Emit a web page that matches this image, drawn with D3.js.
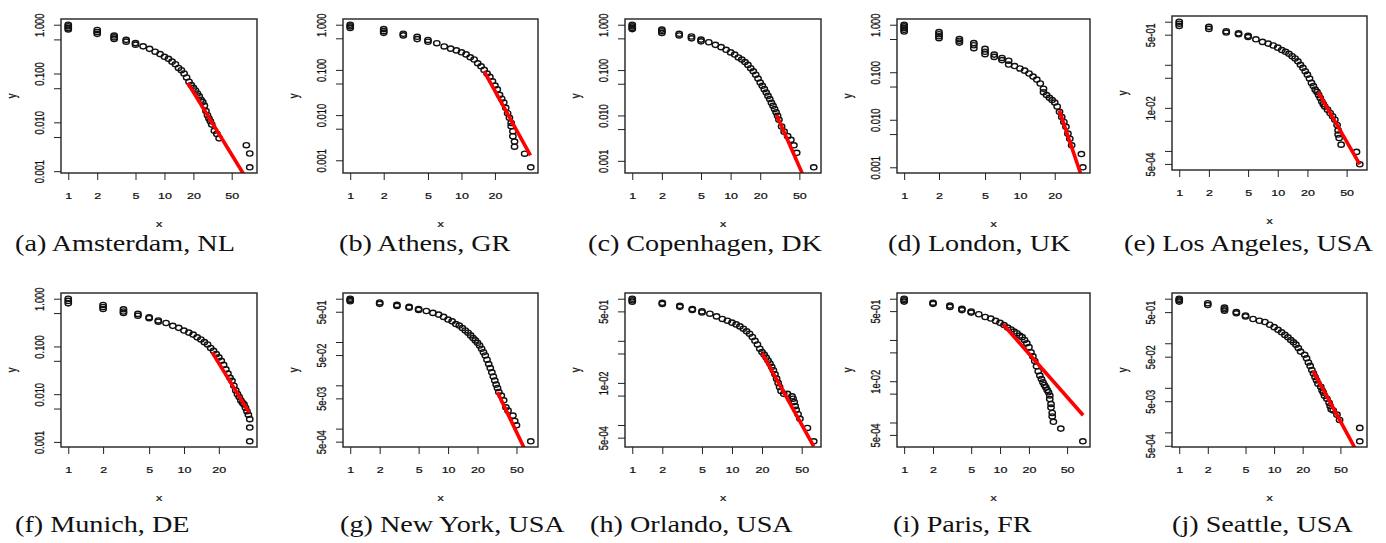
<!DOCTYPE html>
<html>
<head>
<meta charset="utf-8">
<script src="https://cdn.jsdelivr.net/npm/d3@7"></script>
<style>
  body { margin: 0; background: #fff; }
  svg { display: block; }
  .lab { font-family: "Liberation Sans", Arial, sans-serif; font-size: 12.5px; fill: #111; stroke: #111; stroke-width: 0.3px; }
  .cap { font-family: "Liberation Serif", "Times New Roman", serif; font-size: 23.5px; fill: #111; }
</style>
</head>
<body>
<svg id="fig" width="1386" height="543"></svg>
<script>

// CCDF points [x, P(X >= x)]
var amsterdam = [[1,1],[1,0.93],[1,0.86],[1,0.8],[2,0.78],[2,0.71],[2,0.65],[3,0.6],[3,0.55],[3,0.51],
  [4,0.49],[4,0.45],[5,0.42],[5,0.39],[6,0.36],[7,0.32],[8,0.28],[9,0.25],[10,0.22],[11,0.2],[12,0.175],
  [13,0.155],[14,0.13],[15,0.117],[16,0.1],[17,0.083],[18,0.068],[19,0.058],[20,0.051],[21,0.045],[22,0.039],
  [23,0.034],[24,0.029],[25,0.026],[26,0.022],[27,0.017],[28,0.014],[29,0.012],[30,0.0105],[31,0.009],
  [33,0.0067],[35,0.0058],[37,0.0047],[71,0.0034],[77,0.0023],[77,0.0012]]

var athens = [[1,1],[1,0.92],[1,0.85],[2,0.8],[2,0.72],[2,0.66],[3,0.63],[3,0.58],[4,0.54],[4,0.48],
  [5,0.46],[5,0.42],[6,0.39],[7,0.33],[8,0.295],[9,0.27],[10,0.245],[11,0.22],[12,0.19],[13,0.17],[14,0.14],
  [15,0.12],[16,0.1],[17,0.083],[18,0.07],[19,0.056],[20,0.045],[21,0.037],[22,0.028],[23,0.023],[24,0.019],
  [25,0.0145],[26,0.011],[27,0.0087],[28,0.0067],[28,0.0057],[29,0.0044],[29,0.0034],[30,0.0026],[30,0.002],
  [37,0.0014],[42,0.0007]]

var copenhagen = [[1,1],[1,0.92],[1,0.85],[1,0.8],[2,0.78],[2,0.72],[2,0.66],[3,0.63],[3,0.58],[4,0.55],
  [4,0.5],[5,0.47],[5,0.43],[6,0.41],[7,0.36],[8,0.32],[9,0.28],[10,0.245],[11,0.22],[12,0.19],[13,0.17],
  [14,0.15],[15,0.13],[16,0.11],[17,0.094],[18,0.079],[19,0.065],[20,0.053],[21,0.045],[22,0.038],[23,0.032],
  [24,0.027],[25,0.023],[26,0.019],[27,0.0163],[28,0.0138],[29,0.0117],[30,0.0098],[31,0.008],[33,0.0057],
  [35,0.0044],[38,0.0035],[41,0.0029],[44,0.0022],[47,0.0015],[70,0.00072]]

var london = [[1,1],[1,0.92],[1,0.85],[1,0.78],[1,0.72],[2,0.7],[2,0.63],[2,0.57],[2,0.52],[3,0.5],[3,0.46],
  [3,0.42],[4,0.41],[4,0.37],[4,0.32],[5,0.31],[5,0.27],[5,0.24],[6,0.235],[6,0.21],[7,0.2],[7,0.18],
  [8,0.175],[8,0.145],[9,0.135],[10,0.12],[11,0.108],[12,0.094],[13,0.081],[14,0.07],[15,0.058],[16,0.045],
  [16,0.038],[17,0.033],[18,0.029],[19,0.026],[20,0.023],[21,0.019],[22,0.0147],[23,0.0114],[24,0.009],
  [25,0.0071],[26,0.0051],[27,0.004],[28,0.0029],[34,0.0019],[35,0.001]]

var losAngeles = [[1,1],[1,0.9],[1,0.8],[2,0.76],[2,0.68],[3,0.6],[3,0.56],[4,0.54],[4,0.51],[5,0.47],
  [5,0.44],[6,0.39],[7,0.34],[8,0.31],[9,0.28],[10,0.25],[11,0.22],[12,0.2],[13,0.18],[14,0.158],[15,0.14],
  [16,0.12],[17,0.1],[18,0.085],[19,0.071],[20,0.059],[21,0.048],[22,0.038],[23,0.032],[24,0.0265],
  [25,0.0235],[26,0.02],[27,0.017],[28,0.014],[29,0.0122],[30,0.0107],[32,0.0091],[34,0.0076],[36,0.0064],
  [38,0.0053],[40,0.004],[41,0.003],[41,0.0024],[42,0.002],[44,0.0014],[63,0.00095],[68,0.00049]]

var munich = [[1,1],[1,0.9],[1,0.8],[2,0.74],[2,0.67],[2,0.61],[3,0.6],[3,0.54],[3,0.5],[4,0.48],[4,0.44],
  [5,0.41],[5,0.39],[6,0.35],[6,0.33],[7,0.31],[8,0.27],[9,0.245],[10,0.215],[11,0.195],[12,0.177],
  [13,0.155],[14,0.14],[15,0.123],[16,0.11],[17,0.093],[18,0.081],[19,0.069],[20,0.059],[21,0.05],
  [22,0.041],[23,0.033],[24,0.027],[25,0.022],[26,0.019],[27,0.015],[28,0.012],[29,0.01],[30,0.0087],
  [31,0.0074],[32,0.0066],[33,0.0061],[34,0.0052],[35,0.0044],[36,0.0037],[37,0.003],[37,0.002],[37,0.00103]]

var newYork = [[1,1],[1,0.93],[1,0.87],[2,0.82],[2,0.76],[3,0.72],[3,0.68],[4,0.65],[4,0.62],[5,0.58],
  [5,0.55],[6,0.52],[7,0.47],[8,0.43],[9,0.38],[10,0.33],[11,0.3],[12,0.26],[13,0.24],[14,0.21],[15,0.185],
  [16,0.164],[17,0.142],[18,0.123],[19,0.109],[20,0.096],[21,0.083],[22,0.07],[23,0.058],[24,0.049],
  [25,0.039],[26,0.031],[27,0.025],[28,0.02],[29,0.016],[30,0.0129],[31,0.0104],[32,0.0087],[33,0.007],
  [35,0.0058],[37,0.0045],[39,0.0031],[41,0.0026],[46,0.002],[48,0.0015],[50,0.0012],[70,0.00051]]

var orlando = [[1,1],[1,0.92],[1,0.85],[2,0.8],[2,0.75],[3,0.68],[3,0.64],[4,0.57],[4,0.54],[5,0.5],
  [5,0.47],[6,0.44],[7,0.38],[8,0.33],[9,0.3],[10,0.27],[11,0.245],[12,0.22],[13,0.194],[14,0.168],
  [15,0.147],[16,0.123],[17,0.1],[18,0.082],[19,0.065],[20,0.054],[21,0.047],[22,0.04],[23,0.034],
  [24,0.029],[25,0.024],[26,0.02],[27,0.016],[28,0.0126],[29,0.01],[30,0.008],[31,0.0064],[33,0.0055],
  [36,0.0055],[40,0.0048],[41,0.0042],[42,0.0035],[43,0.0028],[44,0.0023],[46,0.0018],[48,0.0014],
  [57,0.00085],[66,0.00041]]

var paris = [[1,1],[1,0.92],[1,0.85],[2,0.8],[2,0.75],[3,0.68],[3,0.63],[4,0.57],[4,0.53],[5,0.49],[5,0.46],
  [6,0.42],[7,0.36],[8,0.33],[9,0.29],[10,0.26],[11,0.23],[12,0.2],[13,0.18],[14,0.16],[15,0.146],
  [16,0.128],[17,0.117],[18,0.1],[19,0.083],[20,0.067],[21,0.05],[22,0.04],[23,0.031],[24,0.023],
  [25,0.0175],[26,0.0137],[27,0.0113],[28,0.0094],[29,0.0081],[30,0.0071],[31,0.0061],[32,0.0054],
  [33,0.0045],[33,0.0037],[34,0.0028],[34,0.0023],[35,0.0017],[35,0.0014],[36,0.00104],[43,0.00071],
  [73,0.00035]]

var seattle = [[1,1],[1,0.93],[1,0.86],[2,0.79],[2,0.72],[3,0.63],[3,0.58],[3,0.54],[4,0.5],[4,0.47],
  [5,0.42],[5,0.4],[6,0.35],[7,0.32],[8,0.3],[9,0.26],[10,0.23],[11,0.2],[12,0.176],[13,0.154],[14,0.136],
  [15,0.118],[16,0.105],[17,0.093],[18,0.078],[19,0.065],[21,0.055],[22,0.046],[23,0.037],[24,0.031],
  [25,0.025],[26,0.021],[27,0.0175],[28,0.0147],[29,0.0124],[31,0.0105],[32,0.0088],[33,0.0078],
  [34,0.0066],[36,0.0057],[38,0.0046],[39,0.0039],[40,0.0033],[42,0.0031],[46,0.0025],[49,0.0019],
  [80,0.00126],[80,0.00063]]

// fitted power-law lines, [x, y] at xmin and at the far end
var fitAmsterdam = [[17.5, 0.064], [78, 0.00052]]
var fitAthens = [[16, 0.093], [41.7, 0.00128]]
var fitCopenhagen = [[29.3, 0.0103], [70, 0.00014]]
var fitLondon = [[21.9, 0.0158], [35.3, 0.0005]]
var fitLosAngeles = [[25.7, 0.0233], [68, 0.00049]]
var fitMunich = [[17.5, 0.075], [36.6, 0.0041]]
var fitNewYork = [[32, 0.0069], [70, 0.00017]]
var fitOrlando = [[20, 0.051], [66, 0.00031]]
var fitParis = [[10.8, 0.237], [73.5, 0.0015]]
var fitSeattle = [[25.8, 0.024], [80, 0.00028]]

var captions = ["(a) Amsterdam, NL", "(b) Athens, GR", "(c) Copenhagen, DK", "(d) London, UK",
  "(e) Los Angeles, USA", "(f) Munich, DE", "(g) New York, USA", "(h) Orlando, USA", "(i) Paris, FR",
  "(j) Seattle, USA"]

// tick values and labels
var xTicks = [1, 2, 5, 10, 20, 50]
var yTicks = [1, 0.5, 0.1, 0.05, 0.01, 0.005, 0.001, 0.0005]
var yLabFixed = [[1, "1.000"], [0.1, "0.100"], [0.01, "0.010"], [0.001, "0.001"]]
var yLabSci3 = [[0.5, "5e-01"], [0.01, "1e-02"], [0.0005, "5e-04"]]
var yLabSci4 = [[0.5, "5e-01"], [0.05, "5e-02"], [0.005, "5e-03"], [0.0005, "5e-04"]]

var datasets = [amsterdam, athens, copenhagen, london, losAngeles, munich, newYork, orlando, paris, seattle]
var fits = [fitAmsterdam, fitAthens, fitCopenhagen, fitLondon, fitLosAngeles, fitMunich, fitNewYork,
  fitOrlando, fitParis, fitSeattle]
var yLabelSets = [yLabFixed, yLabFixed, yLabFixed, yLabFixed, yLabSci3, yLabFixed, yLabSci4, yLabSci3,
  yLabSci3, yLabSci4]

// layout
var colLeft = [61, 343, 625, 897, 1172]
var colWidth = [196, 195, 196, 193, 195]
var rowTop = [19, 293]
var boxH = 154
var capX = [15, 339, 588, 888, 1124, 15, 340, 590, 893, 1172]
var capY = [251, 532]
var squash = "scale(1,0.75)"

var svg = d3.select("#fig")

datasets.forEach(function (pts, i) {
  var row = Math.floor(i / 5),
    col = i % 5
  var left = colLeft[col],
    top = rowTop[row] + (i === 4 ? -3 : 0),
    w = colWidth[col]

  // R style log axes: data range padded by 4% each side
  var lx = d3.extent(pts, function (d) { return Math.log10(d[0]) })
  var ly = d3.extent(pts, function (d) { return Math.log10(d[1]) })
  var px = 0.04 * (lx[1] - lx[0]),
    py = 0.04 * (ly[1] - ly[0])

  var x = d3.scaleLog()
    .domain([Math.pow(10, lx[0] - px), Math.pow(10, lx[1] + px)])
    .range([left, left + w])
  var y = d3.scaleLog()
    .domain([Math.pow(10, ly[0] - py), Math.pow(10, ly[1] + py)])
    .range([top + boxH, top])

  var g = svg.append("g").attr("class", "panel")

  // clip for the fitted line
  g.append("clipPath")
    .attr("id", "clip" + i)
    .append("rect")
    .attr("x", left)
    .attr("y", top)
    .attr("width", w)
    .attr("height", boxH)

  // x axis
  var xd = x.domain()
  var xAxis = d3.axisBottom(x)
    .tickValues(xTicks.filter(function (t) { return t >= xd[0] && t <= xd[1] }))
    .tickFormat(d3.format("d"))
    .tickSize(7)
    .tickSizeOuter(0)
  var gx = g.append("g")
    .attr("transform", "translate(0," + (top + boxH) + ")")
    .call(xAxis)
  gx.select(".domain").remove()
  gx.selectAll(".tick line").attr("stroke", "#222")
  gx.selectAll(".tick text")
    .attr("class", "lab")
    .attr("y", null)
    .attr("dy", null)
    .attr("fill", null)
    .attr("transform", "translate(0,26) " + squash)

  // y axis
  var yd = y.domain()
  var labs = new Map(yLabelSets[i])
  var yAxis = d3.axisLeft(y)
    .tickValues(yTicks.filter(function (t) { return t >= yd[0] && t <= yd[1] }))
    .tickFormat(function (t) { return labs.has(t) ? labs.get(t) : "" })
    .tickSize(7)
    .tickSizeOuter(0)
  var gy = g.append("g")
    .attr("transform", "translate(" + left + ",0)")
    .call(yAxis)
  gy.select(".domain").remove()
  gy.selectAll(".tick line").attr("stroke", "#222")
  gy.selectAll(".tick text")
    .attr("class", "lab")
    .attr("x", null)
    .attr("fill", null)
    .attr("dy", "0.35em")
    .attr("text-anchor", "middle")
    .attr("transform", "translate(-21,0) " + squash + " rotate(-90)")

  // axis titles
  g.append("text")
    .attr("class", "lab")
    .attr("text-anchor", "middle")
    .attr("transform", "translate(" + (left + w / 2) + "," + (top + boxH + 54) + ") " + squash)
    .text("x")
  g.append("text")
    .attr("class", "lab")
    .attr("text-anchor", "middle")
    .attr("transform", "translate(" + (left - 45) + "," + (top + boxH / 2) + ") " + squash + " rotate(-90)")
    .text("y")

  // points
  g.selectAll("ellipse.pt")
    .data(pts)
    .enter()
    .append("ellipse")
    .attr("class", "pt")
    .attr("cx", function (d) { return x(d[0]) })
    .attr("cy", function (d) { return y(d[1]) })
    .attr("rx", 3.2)
    .attr("ry", 2.6)
    .style("fill", "none")
    .style("stroke", "#111")
    .style("stroke-width", 1.4)

  // fitted line
  g.append("path")
    .datum(fits[i])
    .attr("clip-path", "url(#clip" + i + ")")
    .attr("d", d3.line()
      .x(function (d) { return x(d[0]) })
      .y(function (d) { return y(d[1]) }))
    .style("fill", "none")
    .style("stroke", "#ff0000")
    .style("stroke-width", 3.6)

  // box
  g.append("rect")
    .attr("x", left)
    .attr("y", top)
    .attr("width", w)
    .attr("height", boxH)
    .style("fill", "none")
    .style("stroke", "#222")
    .style("stroke-width", 1.4)

  // caption
  svg.append("text")
    .attr("class", "cap")
    .attr("transform", "translate(" + capX[i] + "," + capY[row] + ") scale(1.2,1)")
    .text(captions[i])
})

</script>
</body>
</html>
